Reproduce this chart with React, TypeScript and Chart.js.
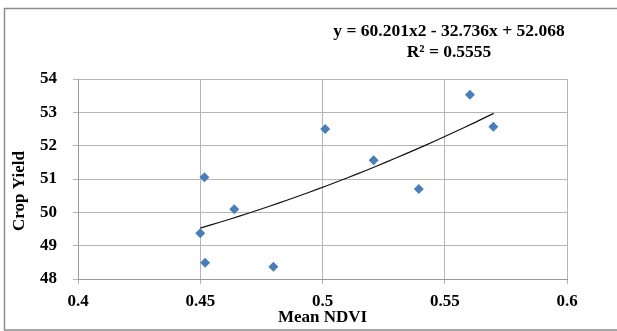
import React, { useEffect, useRef } from "react";
import { Chart, registerables } from "chart.js";

Chart.register(...registerables);

const ndvi = [0.4517, 0.4639, 0.45, 0.452, 0.4799, 0.5011, 0.5209, 0.5394, 0.5603, 0.5699];
const cropYield = [51.05, 50.09, 49.37, 48.49, 48.37, 52.5, 51.56, 50.7, 53.53, 52.57];
const trendCoefficients = [60.201, -32.736, 52.068];
const trendRange = [0.45, 0.57];
const xTicks = [0.4, 0.45, 0.5, 0.55, 0.6];
const yTicks = [48, 49, 50, 51, 52, 53, 54];
const equationLines = ["y = 60.201x2 - 32.736x + 52.068", "R² = 0.5555"];
const xTitle = "Mean NDVI";
const yTitle = "Crop Yield";

const FONT = "'Liberation Serif', 'Times New Roman', serif";

export default function App() {
  const ref = useRef<HTMLCanvasElement>(null);

  useEffect(() => {
    if (!ref.current) return;
    const points = ndvi.map((x, i) => ({ x, y: cropYield[i] }));
    const trend: { x: number; y: number }[] = [];
    const n = 30;
    for (let i = 0; i <= n; i++) {
      const x = trendRange[0] + ((trendRange[1] - trendRange[0]) * i) / n;
      const [a, b, c] = trendCoefficients;
      trend.push({ x, y: a * x * x + b * x + c });
    }

    const decor = {
      id: "decor",
      afterDraw(chart: any) {
        const ctx = chart.ctx as CanvasRenderingContext2D;
        const area = chart.chartArea;
        ctx.save();
        // outer frame
        ctx.strokeStyle = "#8c8c8c";
        ctx.lineWidth = 1.5;
        ctx.beginPath();
        ctx.moveTo(4.5, 330.5);
        ctx.lineTo(4.5, 8.5);
        ctx.lineTo(617, 8.5);
        ctx.moveTo(4.5, 330);
        ctx.lineTo(617, 330);
        ctx.stroke();

        ctx.fillStyle = "#000";
        ctx.font = `bold 17.5px ${FONT}`;
        ctx.textAlign = "center";
        ctx.textBaseline = "middle";
        ctx.fillText(equationLines[0], 449, 31);
        ctx.fillText(equationLines[1], 449, 52);

        ctx.font = `bold 17px ${FONT}`;
        ctx.fillText(xTitle, (area.left + area.right) / 2, 318);

        ctx.translate(20, 191);
        ctx.rotate(-Math.PI / 2);
        ctx.fillText(yTitle, 0, 0);
        ctx.restore();
      },
    };

    const tickFont = { family: FONT, size: 17, weight: "bold" as const };
    const chart = new Chart(ref.current, {
      type: "scatter",
      data: {
        datasets: [
          {
            type: "scatter",
            data: points,
            pointStyle: "rectRot",
            pointRadius: 5,
            pointBackgroundColor: "#4a7ebb",
            pointBorderColor: "#4a7ebb",
            pointBorderWidth: 0,
            order: 1,
          },
          {
            type: "line",
            data: trend,
            borderColor: "#111",
            borderWidth: 1.2,
            pointRadius: 0,
            tension: 0,
            order: 2,
          } as any,
        ],
      },
      options: {
        responsive: false,
        animation: false,
        layout: { padding: { left: 0, right: 50, top: 79, bottom: 0 } },
        plugins: { legend: { display: false }, tooltip: { enabled: false } },
        scales: {
          x: {
            type: "linear",
            min: 0.4,
            max: 0.6,
            afterBuildTicks: (s: any) => {
              s.ticks = xTicks.map((v) => ({ value: v }));
            },
            afterFit: (s: any) => {
              s.height = 52;
            },
            ticks: {
              font: tickFont,
              color: "#000",
              padding: 7,
              maxRotation: 0,
              callback: (v: any) => String(v),
            },
            grid: { color: "#b5b5b5", tickLength: 5, lineWidth: 1 },
            border: { color: "#999", width: 1 },
          },
          y: {
            type: "linear",
            min: 48,
            max: 54,
            afterBuildTicks: (s: any) => {
              s.ticks = yTicks.map((v) => ({ value: v }));
            },
            afterFit: (s: any) => {
              s.width = 78;
            },
            ticks: {
              font: tickFont,
              color: "#000",
              padding: 16,
              callback: (v: any) => String(v),
            },
            grid: { color: "#b5b5b5", tickLength: 5, lineWidth: 1 },
            border: { color: "#999", width: 1 },
          },
        },
      },
      plugins: [decor],
    });
    return () => chart.destroy();
  }, []);

  return (
    <div style={{ position: "absolute", left: 0, top: 0, width: 617, height: 331 }}>
      <canvas ref={ref} width={617} height={331} style={{ display: "block" }} />
    </div>
  );
}
